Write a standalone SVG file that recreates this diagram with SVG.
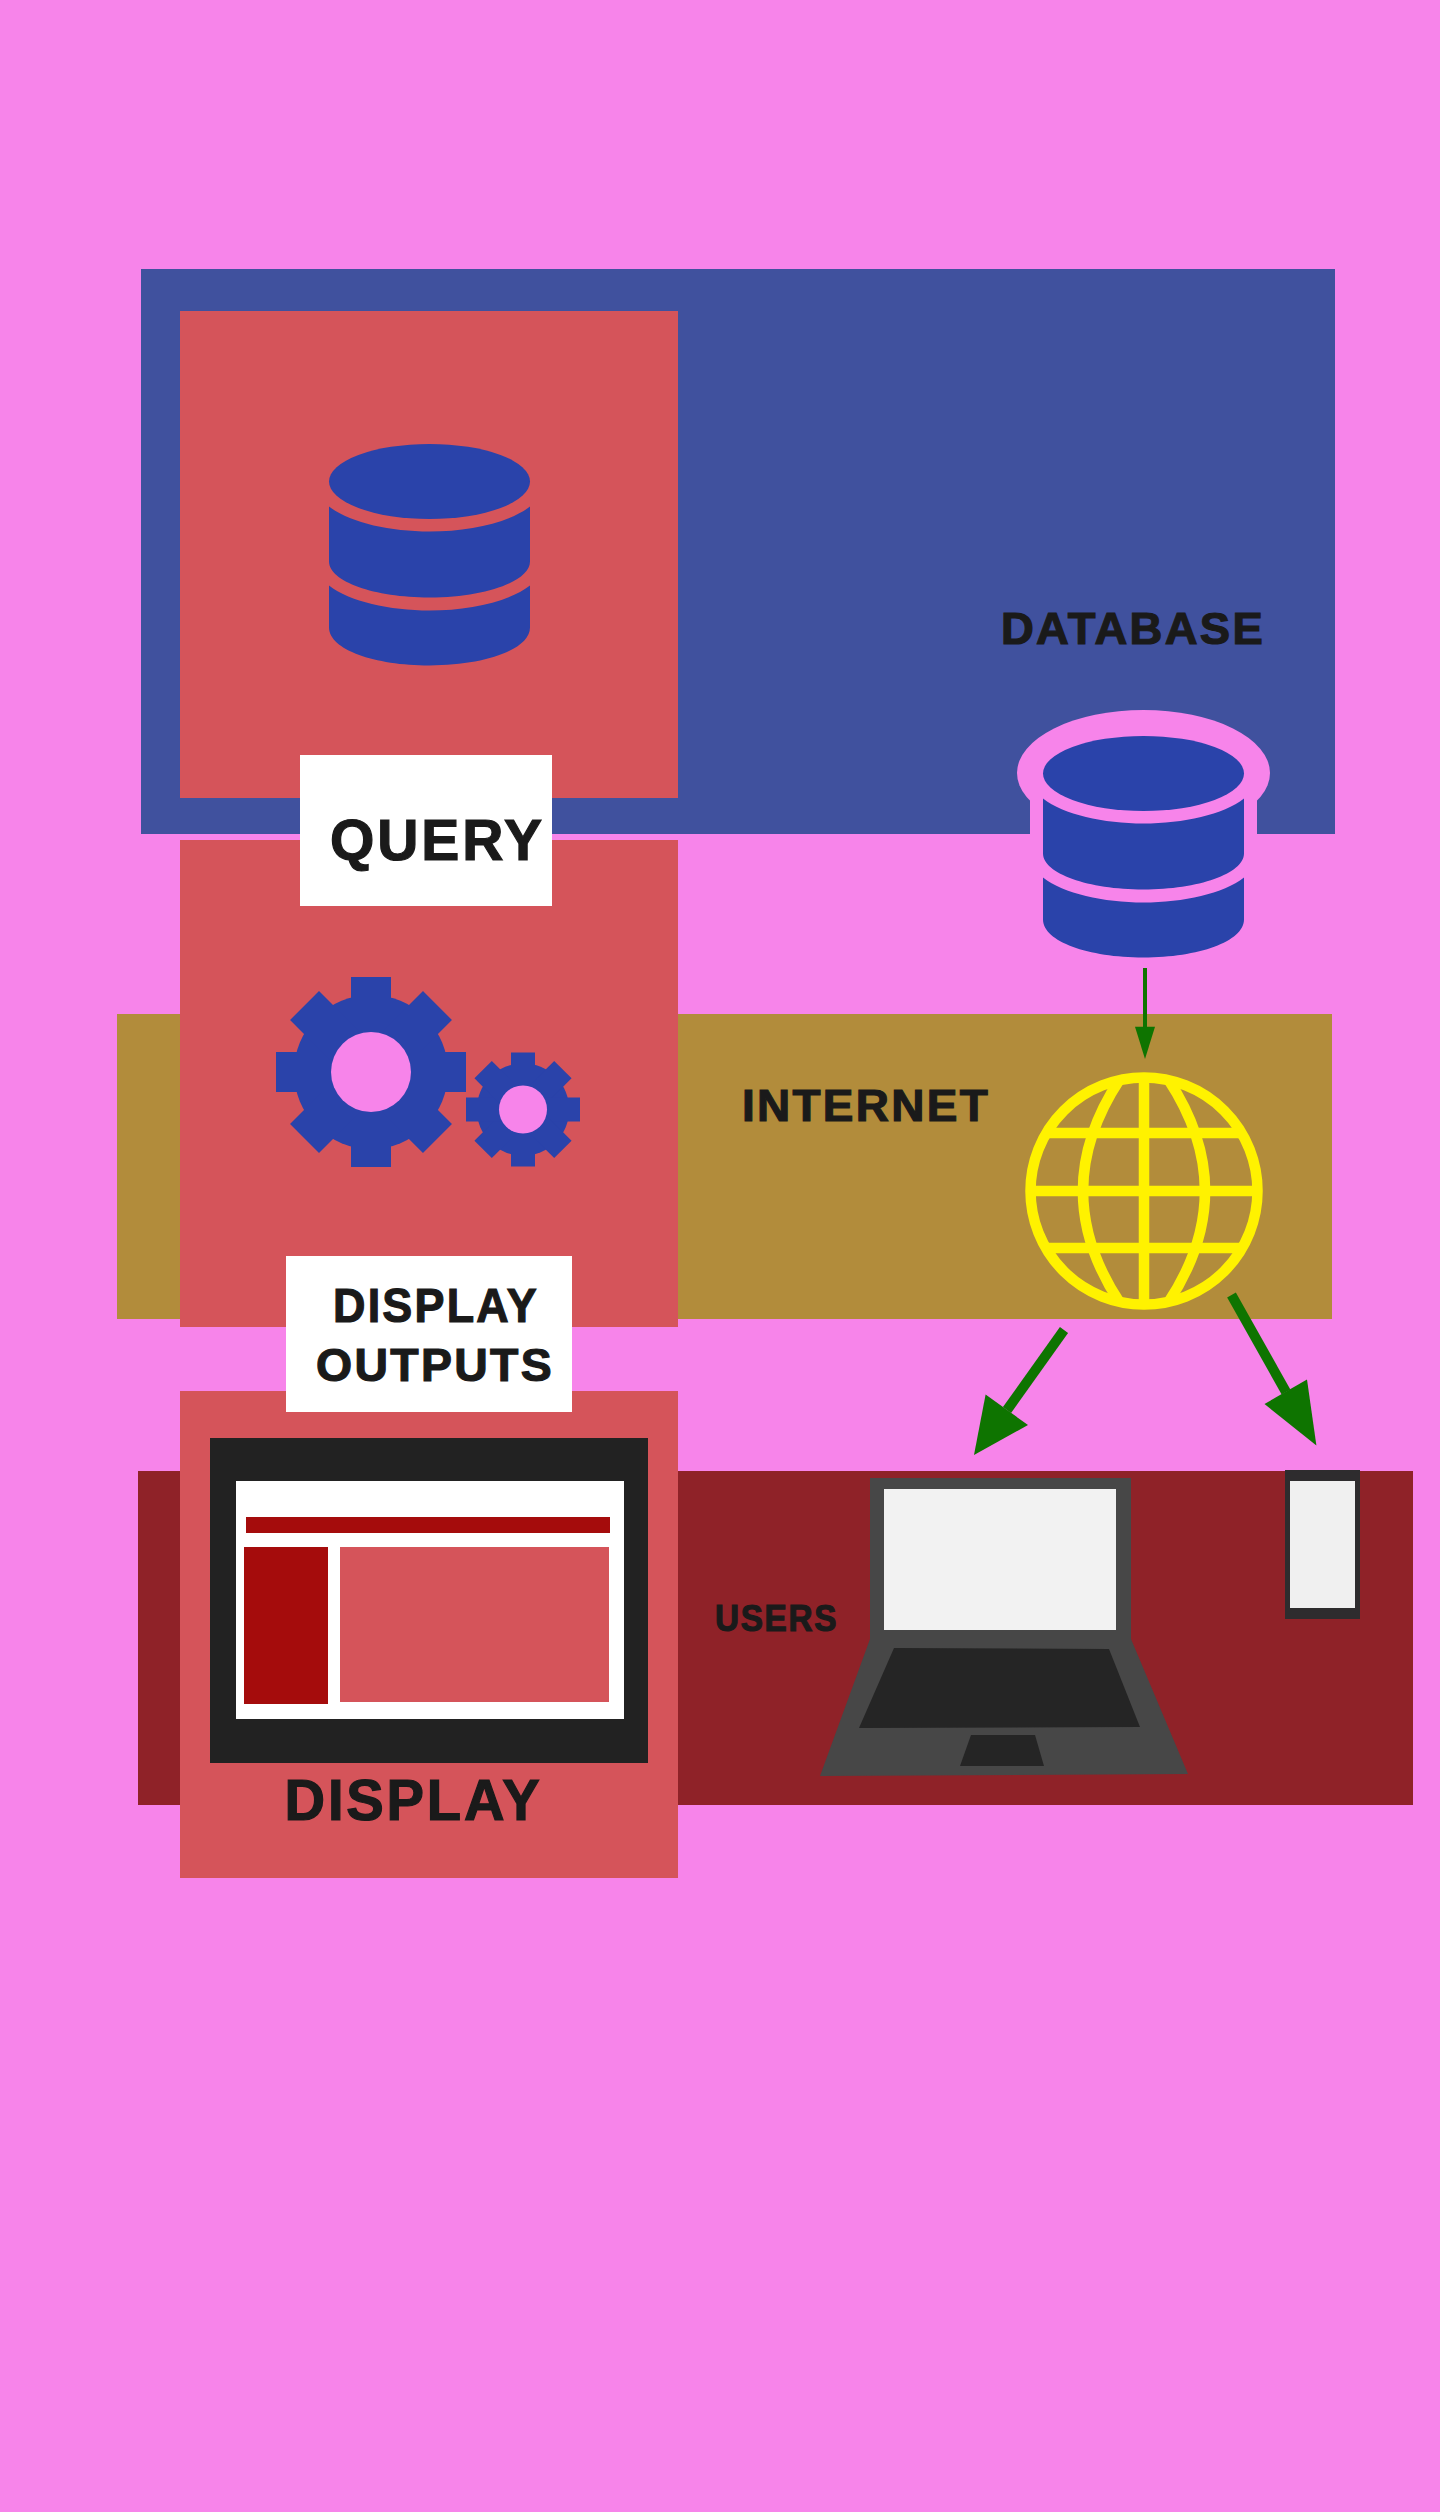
<svg xmlns="http://www.w3.org/2000/svg" width="1440" height="2512" viewBox="0 0 1440 2512">
<style>
.lbl{font-family:"Liberation Sans",Arial,sans-serif;font-weight:700;fill:#1a1a1a;stroke:#1a1a1a;stroke-width:1.2;letter-spacing:.05em}
.panel{fill:#d5545a}
.icon{fill:#2a43aa}
.halo{fill:#f784ea}
.g{fill:none;stroke:#fff200;stroke-width:10.5}
.ar{stroke:#0e7400;fill:none}
.hd{fill:#0e7400}
</style>
<defs>
<g id="gear">
<circle r="77" class="icon"/>
<rect x="-20" y="-95" width="40" height="190" class="icon"/>
<rect x="-20.5" y="-94" width="41" height="188" class="icon" transform="rotate(45)"/>
<rect x="-20" y="-95" width="40" height="190" class="icon" transform="rotate(90)"/>
<rect x="-20.5" y="-94" width="41" height="188" class="icon" transform="rotate(135)"/>
<circle r="40" class="halo"/>
</g>
<g id="db">
<ellipse cx="0" cy="0" rx="100.5" ry="37.5" class="icon"/>
<path class="icon" d="M-100.5 25C-80 41 -40 50 0 50C40 50 80 41 100.5 25V80C100.5 100 55 116 0 116C-55 116 -100.5 100 -100.5 80Z"/>
<path class="icon" d="M-100.5 104C-80 120 -40 129 0 129C40 129 80 120 100.5 104V146C100.5 168 55 184 0 184C-55 184 -100.5 168 -100.5 146Z"/>
</g>
</defs>
<rect width="1440" height="2512" fill="#f784ea"/>
<g id="database-layer">
<rect x="141" y="269" width="1194" height="565" fill="#40519e"/>
<text class="lbl" x="1001" y="644" font-size="45" textLength="264" lengthAdjust="spacingAndGlyphs">DATABASE</text>
<g id="database-icon">
<ellipse cx="1143.5" cy="773" rx="126.5" ry="63" class="halo"/>
<rect x="1030" y="773" width="227" height="70" class="halo"/>
<use href="#db" x="1143.5" y="773.5"/>
</g>
</g>
<g id="internet-layer">
<rect x="117" y="1014" width="1215" height="305" fill="#b28c3b"/>
<text class="lbl" x="742" y="1121" font-size="45" textLength="248" lengthAdjust="spacingAndGlyphs">INTERNET</text>
<g id="globe">
<circle cx="1144" cy="1191" r="113.5" class="g"/>
<path class="g" d="M1144 1077V1305M1046 1133H1242M1030 1191H1258M1046 1248H1242"/>
<path class="g" d="M1120 1079Q1046 1191 1120 1303M1168 1079Q1242 1191 1168 1303"/>
</g>
</g>
<g id="users-layer">
<rect x="138" y="1471" width="1275" height="334" fill="#8f2228"/>
<text class="lbl" x="715" y="1631" font-size="36" textLength="123" lengthAdjust="spacingAndGlyphs">USERS</text>
<g id="laptop">
<path fill="#474747" d="M870 1478H1131V1639L1188 1774L820 1776L870 1639Z"/>
<rect x="884" y="1489" width="232" height="141" fill="#f2f2f2"/>
<path fill="#252525" d="M894 1648L1109 1649L1140 1727L859 1728Z"/>
<path fill="#252525" d="M971 1735L1035 1735L1044 1766H960Z"/>
</g>
<g id="phone">
<rect x="1285" y="1470" width="75" height="149" fill="#2e2c2e"/>
<rect x="1290" y="1481" width="65" height="127" fill="#f0f0f0"/>
</g>
</g>
<g id="query-panel">
<rect x="180" y="311" width="498" height="487" class="panel"/>
<use href="#db" x="429.5" y="481.5"/>
</g>
<g id="process-panel">
<rect x="180" y="840" width="498" height="487" class="panel"/>
<use href="#gear" transform="translate(371 1072)"/>
<use href="#gear" transform="translate(523 1109.5) scale(.6)"/>
</g>
<g id="display-panel">
<rect x="180" y="1391" width="498" height="487" class="panel"/>
<rect x="210" y="1438" width="438" height="325" fill="#222"/>
<rect x="236" y="1481" width="388" height="238" fill="#fff"/>
<rect x="246" y="1517" width="364" height="16" fill="#a50c0c"/>
<rect x="244" y="1547" width="84" height="157" fill="#a50c0c"/>
<rect x="340" y="1547" width="269" height="155" class="panel"/>
<text class="lbl" x="284.5" y="1820" font-size="57" textLength="258" lengthAdjust="spacingAndGlyphs">DISPLAY</text>
</g>
<g id="query-label">
<rect x="300" y="755" width="252" height="151" fill="#fff"/>
<text class="lbl" x="330" y="860" font-size="58" textLength="215" lengthAdjust="spacingAndGlyphs">QUERY</text>
</g>
<g id="outputs-label">
<rect x="286" y="1256" width="286" height="156" fill="#fff"/>
<text class="lbl" x="333" y="1322" font-size="48" textLength="206" lengthAdjust="spacingAndGlyphs">DISPLAY</text>
<text class="lbl" x="316" y="1381" font-size="47" textLength="238" lengthAdjust="spacingAndGlyphs">OUTPUTS</text>
</g>
<g id="connectors">
<path class="ar" stroke-width="4" d="M1145 968V1030"/>
<path class="hd" d="M1135 1026.7H1155L1145 1059Z"/>
<path class="ar" stroke-width="10" d="M1064 1330L1007 1410"/>
<path class="hd" d="M985.6 1394.6L1028 1425L974 1455Z"/>
<path class="ar" stroke-width="10" d="M1231.5 1295L1286 1392"/>
<path class="hd" d="M1307 1379.6L1264.5 1404L1316.4 1445.5Z"/>
</g>
</svg>
